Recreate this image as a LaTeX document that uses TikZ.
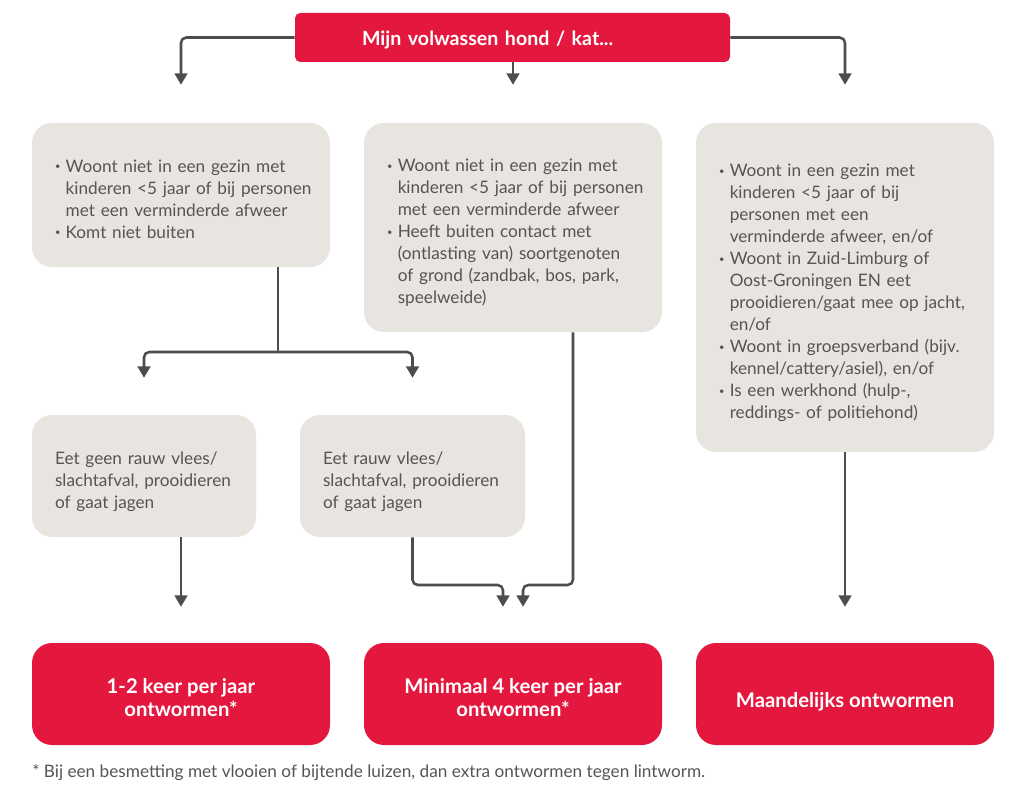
\documentclass[tikz,border=0pt]{standalone}
\usepackage{fontspec}
\setmainfont{Lato}
\usetikzlibrary{arrows.meta}
\definecolor{hondred}{HTML}{E4183F}
\definecolor{boxgray}{HTML}{E8E5E0}
\definecolor{txtgray}{HTML}{555555}
\definecolor{linegray}{HTML}{4D4D4D}
\newcommand{\bul}{\raisebox{0.3ex}{\scriptsize\textbullet}}
\newcommand{\lowered}[2][4.5pt]{\raisebox{-#1}[\height][\depth]{#2}}

\begin{document}
\begin{tikzpicture}[x=0.75pt,y=-0.75pt,
	topbox/.style={fill=hondred, rounded corners=4pt, text=white, align=left, minimum height=36.75pt, inner xsep=50.25pt, text width=225.75pt, font=\bfseries\fontsize{14.7}{16}\selectfont},
	graybox/.style={fill=boxgray, rounded corners=15pt, text=txtgray, align=left, inner xsep=17.25pt, inner ysep=0pt, minimum width=223.5pt, text width=189pt, font=\fontsize{12.9}{16.5}\selectfont},
	redbox/.style={fill=hondred, rounded corners=15pt, text=white, align=center, minimum width=223.5pt, minimum height=76.5pt, font=\bfseries\fontsize{15.2}{17.25}\selectfont},
	arr/.style={draw=linegray, line width=1.9pt, rounded corners=4pt, -{Triangle[width=9.5pt,length=8.5pt]}, shorten >=27pt}]
			\useasboundingbox (0,0) rectangle (1024,795);
			\fill[white] (0,0) rectangle (1024,795);
			% top question
			\node[topbox] (top) at (512.5,37.5) {\lowered[1.5pt]{Mijn volwassen hond / kat...}};
			% three situations
			\node[graybox, minimum height=108pt] (g1) at (181,195) {\lowered{\begin{tabular}{@{}l@{\hspace{4pt}}l@{}}
				\bul & Woont niet in een gezin met\\
				& kinderen <5 jaar of bij personen\\
				& met een verminderde afweer\\
				\bul & Komt niet buiten
			\end{tabular}}};
			\node[graybox, minimum height=156.75pt] (g2) at (513,227.5) {\lowered{\begin{tabular}{@{}l@{\hspace{4pt}}l@{}}
				\bul & Woont niet in een gezin met\\
				& kinderen <5 jaar of bij personen\\
				& met een verminderde afweer\\
				\bul & Heeft buiten contact met\\
				& (ontlasting van) soortgenoten\\
				& of grond (zandbak, bos, park,\\
				& speelweide)
			\end{tabular}}};
			\node[graybox, minimum height=246.75pt] (g3) at (845,287.5) {\lowered{\begin{tabular}{@{}l@{\hspace{4pt}}l@{}}
				\bul & Woont in een gezin met\\
				& kinderen <5 jaar of bij\\
				& personen met een\\
				& verminderde afweer, en/of\\
				\bul & Woont in Zuid-Limburg of\\
				& Oost-Groningen EN eet\\
				& prooidieren/gaat mee op jacht,\\
				& en/of\\
				\bul & Woont in groepsverband (bijv.\\
				& kennel/cattery/asiel), en/of\\
				\bul & Is een werkhond (hulp-,\\
				& reddings- of politiehond)
			\end{tabular}}};
			% food
			\node[graybox, minimum width=168pt, text width=133.5pt, minimum height=91.5pt] (g4) at (144,476) {\lowered{\begin{tabular}{@{}l@{}}
				Eet geen rauw vlees/\\slachtafval, prooidieren\\of gaat jagen
			\end{tabular}}};
			\node[graybox, minimum width=168.75pt, text width=134.25pt, minimum height=91.5pt] (g5) at (412.5,476) {\lowered{\begin{tabular}{@{}l@{}}
				Eet rauw vlees/\\slachtafval, prooidieren\\of gaat jagen
			\end{tabular}}};
			% advice
			\node[redbox] (rA) at (181,694) {\lowered{\begin{tabular}{@{}c@{}}1-2 keer per jaar\\ontwormen*\end{tabular}}};
			\node[redbox] (rB) at (513,694) {\lowered{\begin{tabular}{@{}c@{}}Minimaal 4 keer per jaar\\ontwormen*\end{tabular}}};
			\node[redbox] (rC) at (845,694) {\lowered[6pt]{Maandelijks ontwormen}};
			\node[anchor=west, inner sep=0pt, text=txtgray, font=\fontsize{12.9}{14}\selectfont] (note) at (32,773) {* Bij een besmetting met vlooien of bijtende luizen, dan extra ontwormen tegen lintworm.};
			% connectors
			\draw[arr, shorten >=28.5pt] (top.west) -| (g1.north);
			\draw[arr, shorten >=28.5pt] (top.south -| g2.north) -- (g2.north);
			\draw[arr, shorten >=28.5pt] (top.east) -| (g3.north);
			\coordinate (split) at (278,352);
			\draw[arr, -, shorten >=0pt] (g1.south -| split) -- (split);
			\draw[arr, shorten >=27.75pt] (split) -| (g4.north);
			\draw[arr, shorten >=27.75pt] (split) -| (g5.north);
			\draw[arr] (rA.north |- g4.south) -- (rA.north);
			\coordinate (meet) at (513,585);
			\draw[arr] (g5.south) |- ([xshift=-7.5pt]meet) -- ([xshift=-7.5pt]rB.north);
			\draw[arr] ([xshift=45pt]g2.south) |- ([xshift=7.5pt]meet) -- ([xshift=7.5pt]rB.north);
			\draw[arr] (g3.south) -- (rC.north);
\end{tikzpicture}
\end{document}
